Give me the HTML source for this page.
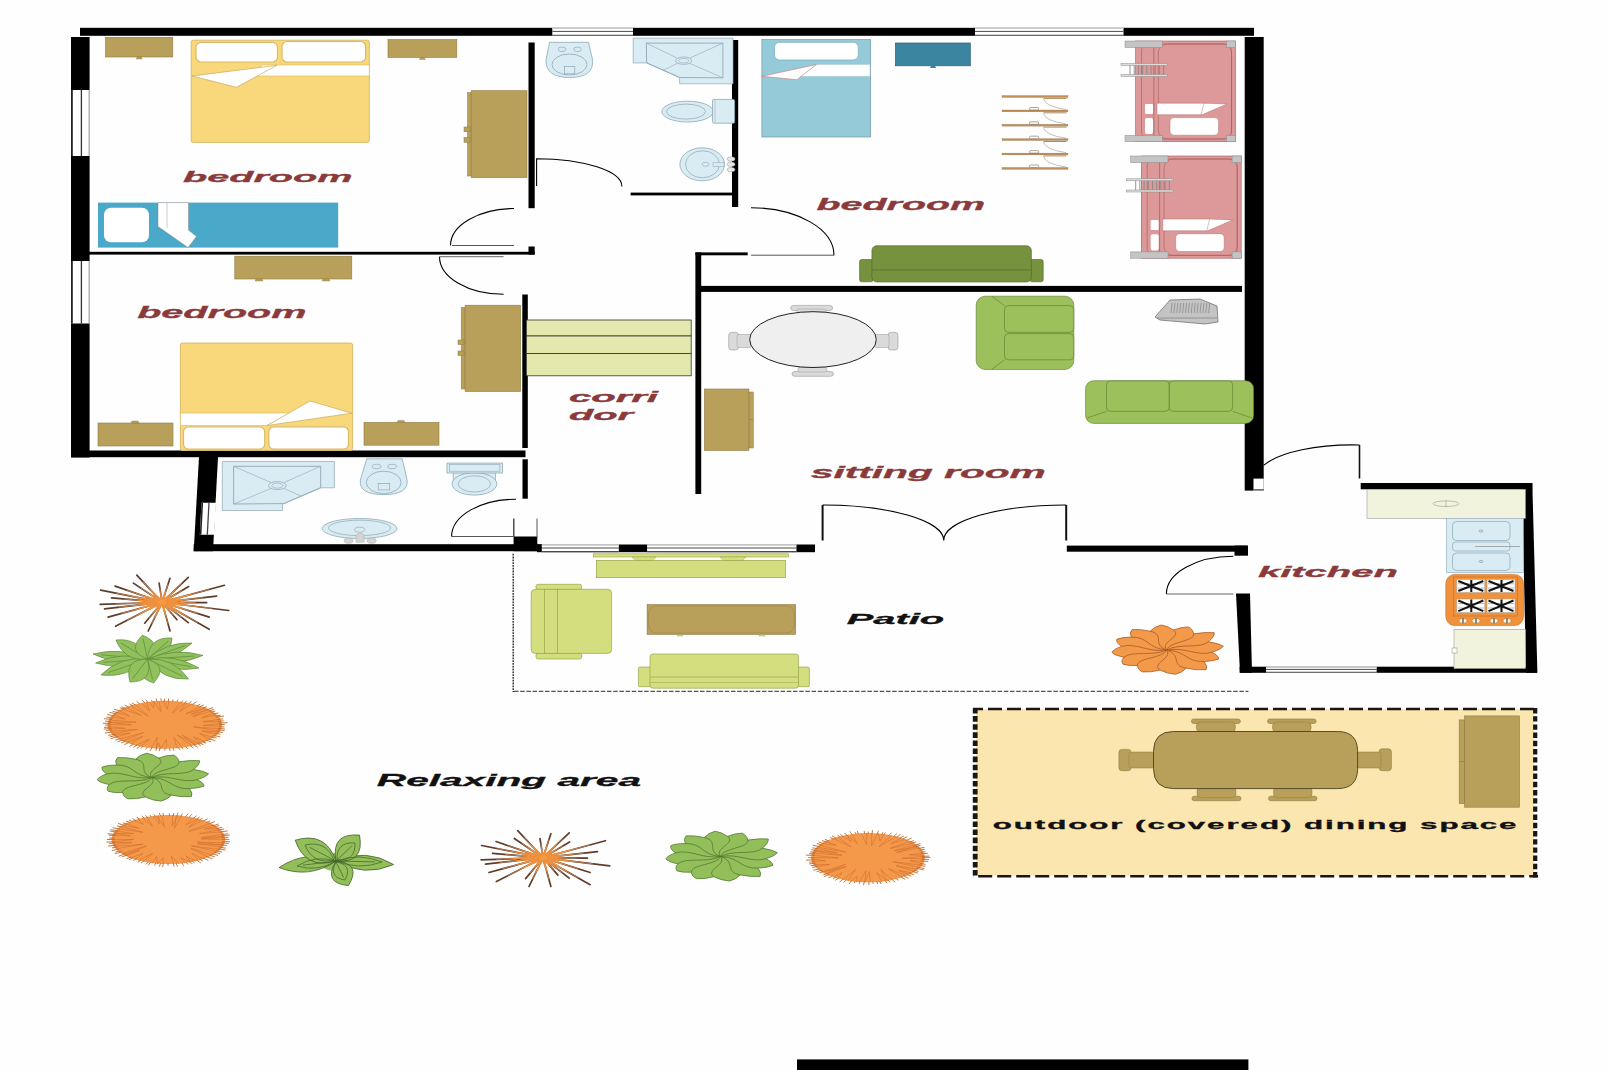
<!DOCTYPE html>
<html><head><meta charset="utf-8"><style>
html,body{margin:0;padding:0;background:#fff;width:1606px;height:1070px;overflow:hidden}
svg{display:block}
</style></head><body>
<svg width="1606" height="1070" viewBox="0 0 1606 1070">
<rect width="1606" height="1070" fill="#fefefe"/>
<rect x="80.0" y="27.8" width="1174.0" height="8.0" fill="#000"/>
<rect x="552.3" y="27.8" width="80.7" height="8.0" fill="#fff"/>
<line x1="552.3" y1="28.4" x2="633.0" y2="28.4" stroke="#c8c8c8" stroke-width="1.2"/>
<line x1="552.3" y1="31.4" x2="633.0" y2="31.4" stroke="#4a4a4a" stroke-width="1.0"/>
<line x1="552.3" y1="35.2" x2="633.0" y2="35.2" stroke="#4a4a4a" stroke-width="1.1"/>
<rect x="975.0" y="27.8" width="148.5" height="8.0" fill="#fff"/>
<line x1="975.0" y1="28.4" x2="1123.5" y2="28.4" stroke="#c8c8c8" stroke-width="1.2"/>
<line x1="975.0" y1="31.4" x2="1123.5" y2="31.4" stroke="#4a4a4a" stroke-width="1.0"/>
<line x1="975.0" y1="35.2" x2="1123.5" y2="35.2" stroke="#4a4a4a" stroke-width="1.1"/>
<rect x="71.0" y="37.0" width="18.6" height="420.5" fill="#000"/>
<rect x="71.0" y="90.0" width="18.6" height="66.0" fill="#fff"/>
<line x1="71.9" y1="90.0" x2="71.9" y2="156.0" stroke="#222" stroke-width="1.8"/>
<line x1="81.4" y1="90.0" x2="81.4" y2="156.0" stroke="#333" stroke-width="1.3"/>
<line x1="89.0" y1="90.0" x2="89.0" y2="156.0" stroke="#aaa" stroke-width="1"/>
<rect x="71.0" y="261.0" width="18.6" height="62.5" fill="#fff"/>
<line x1="71.9" y1="261.0" x2="71.9" y2="323.5" stroke="#222" stroke-width="1.8"/>
<line x1="81.4" y1="261.0" x2="81.4" y2="323.5" stroke="#333" stroke-width="1.3"/>
<line x1="89.0" y1="261.0" x2="89.0" y2="323.5" stroke="#aaa" stroke-width="1"/>
<rect x="528.5" y="42.5" width="6.2" height="165.7" fill="#000"/>
<rect x="528.5" y="246.5" width="6.2" height="8.1" fill="#000"/>
<rect x="89.0" y="251.8" width="445.7" height="2.8" fill="#000"/>
<rect x="522.3" y="294.5" width="5.5" height="153.5" fill="#000"/>
<rect x="71.0" y="450.5" width="454.5" height="6.7" fill="#000"/>
<rect x="522.5" y="459.3" width="5.3" height="39.4" fill="#000"/>
<rect x="732.0" y="40.0" width="6.2" height="167.0" fill="#000"/>
<rect x="630.6" y="192.6" width="101.4" height="2.8" fill="#000"/>
<rect x="695.4" y="252.4" width="52.3" height="2.9" fill="#000"/>
<rect x="695.4" y="252.4" width="5.8" height="241.6" fill="#000"/>
<rect x="701.0" y="285.9" width="541.0" height="6.0" fill="#000"/>
<rect x="1244.7" y="37.0" width="19.0" height="453.6" fill="#000"/>
<rect x="1253.5" y="478.6" width="10.2" height="12.0" fill="#fff"/>
<line x1="1253.5" y1="489.8" x2="1263.7" y2="489.8" stroke="#333" stroke-width="1"/>
<polygon points="199.0,457.0 218.0,457.0 213.0,551.2 193.7,551.2" fill="#000"/>
<polygon points="201.5,502.7 216.0,502.7 214.2,534.7 199.8,534.7" fill="#fff"/>
<line x1="202.3" y1="502.7" x2="200.6" y2="534.7" stroke="#222" stroke-width="1.6"/>
<line x1="209.0" y1="502.7" x2="207.3" y2="534.7" stroke="#444" stroke-width="1.3"/>
<rect x="193.7" y="544.2" width="348.3" height="7.0" fill="#000"/>
<rect x="513.6" y="536.5" width="23.7" height="14.7" fill="#000"/>
<line x1="513.8" y1="518.5" x2="513.8" y2="537.0" stroke="#222" stroke-width="1.2"/>
<line x1="537.0" y1="518.5" x2="537.0" y2="537.0" stroke="#555" stroke-width="1"/>
<rect x="537.0" y="544.5" width="278.0" height="7.7" fill="#000"/>
<rect x="541.8" y="544.5" width="77.0" height="7.7" fill="#fff"/>
<line x1="541.8" y1="545.1" x2="618.8" y2="545.1" stroke="#c8c8c8" stroke-width="1.2"/>
<line x1="541.8" y1="548.0" x2="618.8" y2="548.0" stroke="#4a4a4a" stroke-width="1.0"/>
<line x1="541.8" y1="551.6" x2="618.8" y2="551.6" stroke="#4a4a4a" stroke-width="1.1"/>
<rect x="647.1" y="544.5" width="149.3" height="7.7" fill="#fff"/>
<line x1="647.1" y1="545.1" x2="796.4" y2="545.1" stroke="#c8c8c8" stroke-width="1.2"/>
<line x1="647.1" y1="548.0" x2="796.4" y2="548.0" stroke="#4a4a4a" stroke-width="1.0"/>
<line x1="647.1" y1="551.6" x2="796.4" y2="551.6" stroke="#4a4a4a" stroke-width="1.1"/>
<rect x="1066.8" y="545.6" width="180.5" height="6.1" fill="#000"/>
<rect x="1234.5" y="545.6" width="13.5" height="10.1" fill="#000"/>
<rect x="1360.7" y="483.0" width="171.6" height="6.3" fill="#000"/>
<polygon points="1522.0,483.0 1532.3,483.0 1537.4,672.8 1526.0,672.8" fill="#000"/>
<rect x="1239.6" y="666.7" width="297.4" height="6.1" fill="#000"/>
<rect x="1266.0" y="666.7" width="110.6" height="6.1" fill="#fff"/>
<line x1="1266.0" y1="667.3" x2="1376.6" y2="667.3" stroke="#c8c8c8" stroke-width="1.2"/>
<line x1="1266.0" y1="669.4" x2="1376.6" y2="669.4" stroke="#4a4a4a" stroke-width="1.0"/>
<line x1="1266.0" y1="672.2" x2="1376.6" y2="672.2" stroke="#4a4a4a" stroke-width="1.1"/>
<polygon points="1236.0,593.5 1250.0,593.5 1252.0,672.8 1240.0,672.8" fill="#000"/>
<rect x="797.0" y="1059.4" width="451.4" height="10.6" fill="#000"/>
<path d="M536.6,186 V158.7 A85.5,27.7 0 0 1 621.9,186.4" fill="none" stroke="#000" stroke-width="1.1"/>
<path d="M514,208.5 A64,37 0 0 0 450.5,245.5  " fill="none" stroke="#000" stroke-width="1.1"/>
<line x1="452.0" y1="245.5" x2="514.0" y2="245.5" stroke="#555" stroke-width="1"/>
<path d="M439.5,256.7 A64,37.5 0 0 0 503.6,294.2" fill="none" stroke="#000" stroke-width="1.1"/>
<line x1="439.5" y1="256.7" x2="503.6" y2="256.7" stroke="#666" stroke-width="1"/>
<path d="M751,207.7 A83,47.5 0 0 1 834,255.2" fill="none" stroke="#000" stroke-width="1.1"/>
<line x1="751.0" y1="255.2" x2="834.0" y2="255.2" stroke="#555" stroke-width="1"/>
<path d="M516,499.2 A64.5,37.3 0 0 0 451.6,536.5" fill="none" stroke="#000" stroke-width="1.1"/>
<line x1="451.6" y1="536.5" x2="513.6" y2="536.5" stroke="#555" stroke-width="1"/>
<line x1="822.6" y1="505.0" x2="822.6" y2="540.5" stroke="#111" stroke-width="2"/>
<line x1="1066.2" y1="505.0" x2="1066.2" y2="540.5" stroke="#111" stroke-width="2"/>
<path d="M822.6,505 A121,35.3 0 0 1 943.7,540.3" fill="none" stroke="#000" stroke-width="1.1"/>
<path d="M1066.2,505 A122.5,35.3 0 0 0 943.7,540.3" fill="none" stroke="#000" stroke-width="1.1"/>
<path d="M1263.6,465.3 A96,33 0 0 1 1359.5,445" fill="none" stroke="#000" stroke-width="1.1"/>
<line x1="1359.5" y1="445.0" x2="1359.5" y2="478.5" stroke="#111" stroke-width="1.6"/>
<path d="M1233.3,556.2 A67,37.8 0 0 0 1166.4,594" fill="none" stroke="#000" stroke-width="1.1"/>
<line x1="1166.4" y1="594.0" x2="1233.3" y2="594.0" stroke="#666" stroke-width="1"/>
<rect x="105.6" y="37.3" width="67.2" height="19.7" fill="#b9a05a" stroke="#8d7a45" stroke-width="0.6"/>
<polygon points="136.2,59.0 142.2,59.0 141.2,57.0 137.2,57.0" fill="#b9a05a" stroke="#8d7a45" stroke-width="0.4"/>
<rect x="388.0" y="39.6" width="68.8" height="17.8" fill="#b9a05a" stroke="#8d7a45" stroke-width="0.6"/>
<polygon points="419.4,59.4 425.4,59.4 424.4,57.4 420.4,57.4" fill="#b9a05a" stroke="#8d7a45" stroke-width="0.4"/>
<rect x="191.2" y="40.2" width="178.1" height="102.2" fill="#f9d77b" stroke="#d9bb6a" stroke-width="1" rx="2"/>
<rect x="196.0" y="42.4" width="81.5" height="19.6" fill="#fff" stroke="#d9bb6a" stroke-width="1.2" rx="5"/>
<rect x="282.0" y="41.5" width="83.6" height="20.5" fill="#fff" stroke="#d9bb6a" stroke-width="1.2" rx="5"/>
<polygon points="262.0,65.0 369.3,65.0 369.3,76.0 255.0,76.0" fill="#fff" stroke="#d9bb6a" stroke-width="0.6"/>
<polygon points="192.0,76.0 277.0,65.3 236.4,87.3" fill="#fff" stroke="#c9ab5a" stroke-width="0.7"/>
<rect x="467.5" y="92.5" width="3.7" height="83.5" fill="#b9a05a" stroke="#8d7a45" stroke-width="0.5"/>
<rect x="471.2" y="90.7" width="55.8" height="86.9" fill="#b9a05a" stroke="#8d7a45" stroke-width="0.6"/>
<rect x="464.0" y="127.0" width="6.0" height="4.8" fill="#b9a05a" stroke="#8d7a45" stroke-width="0.5"/>
<rect x="464.0" y="137.5" width="6.0" height="4.8" fill="#b9a05a" stroke="#8d7a45" stroke-width="0.5"/>
<rect x="98.0" y="202.6" width="240.2" height="45.0" fill="#4aa9c8"/>
<rect x="104.0" y="207.8" width="45.0" height="34.5" fill="#fff" rx="7"/>
<polygon points="158.0,202.6 188.5,202.6 188.5,230.0 196.5,236.5 188.0,247.6 158.0,226.5" fill="#fff" stroke="#888" stroke-width="0.5"/>
<line x1="167.0" y1="202.6" x2="167.0" y2="228.0" stroke="#aaa" stroke-width="0.6"/>
<text x="183.0" y="182.4" font-family="Liberation Sans" font-size="15.36" font-style="italic" font-weight="bold" fill="#8a3a3a" stroke="#8a3a3a" stroke-width="0.3" letter-spacing="0" textLength="169.5" lengthAdjust="spacingAndGlyphs">bedroom</text>
<rect x="234.8" y="256.2" width="117.0" height="22.8" fill="#b9a05a" stroke="#8d7a45" stroke-width="0.6"/>
<polygon points="255.0,281.0 263.0,281.0 262.0,279.0 256.0,279.0" fill="#b9a05a" stroke="#8d7a45" stroke-width="0.4"/>
<polygon points="322.0,281.0 330.0,281.0 329.0,279.0 323.0,279.0" fill="#b9a05a" stroke="#8d7a45" stroke-width="0.4"/>
<text x="137.2" y="317.6" font-family="Liberation Sans" font-size="17.01" font-style="italic" font-weight="bold" fill="#8a3a3a" stroke="#8a3a3a" stroke-width="0.3" letter-spacing="0" textLength="169.3" lengthAdjust="spacingAndGlyphs">bedroom</text>
<rect x="180.4" y="343.1" width="172.2" height="107.3" fill="#f9d77b" stroke="#d9bb6a" stroke-width="1" rx="2"/>
<rect x="183.5" y="426.8" width="81.2" height="22.3" fill="#fff" stroke="#d9bb6a" stroke-width="1.2" rx="5"/>
<rect x="268.8" y="426.8" width="79.7" height="22.3" fill="#fff" stroke="#d9bb6a" stroke-width="1.2" rx="5"/>
<polygon points="180.6,413.0 290.0,413.0 267.0,425.5 180.6,425.5" fill="#fff" stroke="#d9bb6a" stroke-width="0.6"/>
<polygon points="267.0,425.5 352.0,413.2 310.0,401.0" fill="#fff" stroke="#c9ab5a" stroke-width="0.7"/>
<rect x="98.0" y="423.0" width="75.0" height="23.0" fill="#b9a05a" stroke="#8d7a45" stroke-width="0.6"/>
<polygon points="131.0,423.0 139.0,423.0 138.0,421.0 132.0,421.0" fill="#b9a05a" stroke="#8d7a45" stroke-width="0.4"/>
<rect x="364.0" y="422.4" width="75.0" height="22.8" fill="#b9a05a" stroke="#8d7a45" stroke-width="0.6"/>
<polygon points="397.0,422.4 405.0,422.4 404.0,420.4 398.0,420.4" fill="#b9a05a" stroke="#8d7a45" stroke-width="0.4"/>
<rect x="461.2" y="307.5" width="3.9" height="81.5" fill="#b9a05a" stroke="#8d7a45" stroke-width="0.5"/>
<rect x="465.1" y="305.2" width="55.5" height="86.3" fill="#b9a05a" stroke="#8d7a45" stroke-width="0.6"/>
<rect x="458.0" y="340.0" width="6.0" height="4.5" fill="#b9a05a" stroke="#8d7a45" stroke-width="0.5"/>
<rect x="458.0" y="351.0" width="6.0" height="4.5" fill="#b9a05a" stroke="#8d7a45" stroke-width="0.5"/>
<path d="M549.5,42.3 L588.5,42.3 L592.6,60 Q594,77.5 569.5,77.5 Q545.5,77.5 546,60 Z" fill="#d9ecf4" stroke="#8ea8b6" stroke-width="0.8"/>
<ellipse cx="569.5" cy="64.5" rx="17.5" ry="10.5" fill="none" stroke="#8ea8b6" stroke-width="0.8"/>
<ellipse cx="562.0" cy="49.3" rx="3.8" ry="2.3" fill="none" stroke="#8ea8b6" stroke-width="0.7"/>
<ellipse cx="577.5" cy="49.3" rx="3.8" ry="2.3" fill="none" stroke="#8ea8b6" stroke-width="0.7"/>
<rect x="564.5" y="66.5" width="10.3" height="7.3" fill="none" stroke="#8ea8b6" stroke-width="0.7"/>
<polygon points="633.2,38.2 733.0,38.2 733.0,83.8 679.6,83.8 679.6,77.5 646.7,62.9 633.2,62.9" fill="#d9ecf4" stroke="#8ea8b6" stroke-width="0.7"/>
<polygon points="646.3,43.1 722.9,43.1 722.9,77.8 679.6,77.5 646.7,62.9" fill="none" stroke="#8ea8b6" stroke-width="0.9"/>
<line x1="646.3" y1="43.1" x2="677.0" y2="58.0" stroke="#8ea8b6" stroke-width="0.6"/>
<line x1="722.9" y1="43.1" x2="690.0" y2="58.0" stroke="#8ea8b6" stroke-width="0.6"/>
<line x1="722.9" y1="77.8" x2="690.0" y2="63.5" stroke="#8ea8b6" stroke-width="0.6"/>
<line x1="663.1" y1="70.4" x2="677.0" y2="63.5" stroke="#8ea8b6" stroke-width="0.6"/>
<ellipse cx="683.7" cy="60.7" rx="8.2" ry="3.7" fill="none" stroke="#8ea8b6" stroke-width="0.7"/>
<ellipse cx="683.7" cy="60.7" rx="5.0" ry="2.2" fill="none" stroke="#8ea8b6" stroke-width="0.6"/>
<ellipse cx="687.5" cy="111.6" rx="25.7" ry="10.4" fill="#d9ecf4" stroke="#8ea8b6" stroke-width="0.8"/>
<ellipse cx="686.0" cy="111.6" rx="19.5" ry="7.5" fill="none" stroke="#8ea8b6" stroke-width="0.7"/>
<rect x="712.5" y="99.4" width="22.1" height="23.8" fill="#d9ecf4" stroke="#8ea8b6" stroke-width="0.8" rx="1.5"/>
<line x1="715.0" y1="100.0" x2="715.0" y2="122.5" stroke="#8ea8b6" stroke-width="0.5"/>
<ellipse cx="702.2" cy="164.3" rx="22.3" ry="16.5" fill="#d9ecf4" stroke="#8ea8b6" stroke-width="0.8"/>
<ellipse cx="702.5" cy="164.3" rx="17.0" ry="13.5" fill="none" stroke="#8ea8b6" stroke-width="0.7"/>
<ellipse cx="705.5" cy="164.3" rx="3.5" ry="2.0" fill="none" stroke="#8ea8b6" stroke-width="0.6"/>
<rect x="713.0" y="162.5" width="11.0" height="4.0" fill="#d9ecf4" stroke="#8ea8b6" stroke-width="0.5"/>
<ellipse cx="731.0" cy="159.0" rx="4.0" ry="2.2" fill="#e8e8e8" stroke="#999" stroke-width="0.5"/>
<ellipse cx="731.0" cy="164.3" rx="4.0" ry="2.2" fill="#e8e8e8" stroke="#999" stroke-width="0.5"/>
<ellipse cx="731.0" cy="169.6" rx="4.0" ry="2.2" fill="#e8e8e8" stroke="#999" stroke-width="0.5"/>
<polygon points="222.3,461.5 334.4,461.5 334.4,487.8 320.3,487.8 283.8,503.6 282.6,503.6 282.6,510.5 222.3,510.5" fill="#d9ecf4" stroke="#8ea8b6" stroke-width="0.7"/>
<polygon points="233.6,466.3 320.7,466.3 320.7,487.8 283.8,503.6 233.6,504.0" fill="none" stroke="#8ea8b6" stroke-width="0.9"/>
<line x1="233.6" y1="466.3" x2="271.0" y2="482.5" stroke="#8ea8b6" stroke-width="0.6"/>
<line x1="320.7" y1="466.3" x2="284.0" y2="482.5" stroke="#8ea8b6" stroke-width="0.6"/>
<line x1="233.6" y1="504.0" x2="271.0" y2="488.5" stroke="#8ea8b6" stroke-width="0.6"/>
<line x1="301.0" y1="496.0" x2="284.0" y2="488.5" stroke="#8ea8b6" stroke-width="0.6"/>
<ellipse cx="277.3" cy="485.6" rx="8.9" ry="4.0" fill="none" stroke="#8ea8b6" stroke-width="0.7"/>
<ellipse cx="277.3" cy="485.6" rx="5.5" ry="2.5" fill="none" stroke="#8ea8b6" stroke-width="0.6"/>
<path d="M366.7,458.8 L402.2,458.8 L407.1,480 Q409,494.6 383.7,494.6 Q358.5,494.6 360.4,480 Z" fill="#d9ecf4" stroke="#8ea8b6" stroke-width="0.8"/>
<ellipse cx="383.7" cy="482.4" rx="17.4" ry="11.2" fill="none" stroke="#8ea8b6" stroke-width="0.8"/>
<ellipse cx="376.6" cy="466.5" rx="4.4" ry="2.2" fill="none" stroke="#8ea8b6" stroke-width="0.7"/>
<ellipse cx="392.2" cy="466.5" rx="4.4" ry="2.2" fill="none" stroke="#8ea8b6" stroke-width="0.7"/>
<rect x="378.2" y="483.4" width="11.5" height="6.5" fill="none" stroke="#8ea8b6" stroke-width="0.7"/>
<rect x="453.2" y="471.0" width="42.4" height="15.0" fill="#d9ecf4" stroke="#8ea8b6" stroke-width="0.7"/>
<ellipse cx="474.4" cy="483.9" rx="22.4" ry="11.2" fill="#d9ecf4" stroke="#8ea8b6" stroke-width="0.8"/>
<ellipse cx="474.4" cy="483.9" rx="16.2" ry="8.1" fill="none" stroke="#8ea8b6" stroke-width="0.7"/>
<rect x="447.0" y="463.1" width="55.4" height="9.9" fill="#d9ecf4" stroke="#8ea8b6" stroke-width="0.8"/>
<rect x="449.5" y="464.3" width="50.4" height="6.9" fill="none" stroke="#8ea8b6" stroke-width="0.6"/>
<ellipse cx="359.6" cy="528.5" rx="37.4" ry="10.0" fill="#d9ecf4" stroke="#8ea8b6" stroke-width="0.8"/>
<ellipse cx="359.6" cy="527.9" rx="31.1" ry="7.7" fill="none" stroke="#8ea8b6" stroke-width="0.7"/>
<ellipse cx="359.6" cy="529.7" rx="5.0" ry="2.5" fill="none" stroke="#999" stroke-width="0.6"/>
<ellipse cx="348.6" cy="540.7" rx="4.6" ry="2.6" fill="#d4d4d4" stroke="#aaa" stroke-width="0.5"/>
<ellipse cx="371.6" cy="540.7" rx="4.6" ry="2.6" fill="#d4d4d4" stroke="#aaa" stroke-width="0.5"/>
<path d="M356,542.2 L356,535 Q360,531.5 364.2,535 L364.2,542.2 Z" fill="#d4d4d4" stroke="#aaa" stroke-width="0.5"/>
<rect x="761.9" y="39.6" width="108.7" height="97.4" fill="#95cad9" stroke="#6f97a5" stroke-width="0.7"/>
<rect x="774.5" y="42.3" width="83.8" height="17.7" fill="#fff" stroke="#7fb0c0" stroke-width="0.8" rx="5"/>
<polygon points="816.4,64.5 870.0,64.5 870.0,76.3 800.0,76.3" fill="#fff" stroke="#b0c8d0" stroke-width="0.5"/>
<polygon points="762.0,76.3 816.4,64.5 796.8,79.7" fill="#fff" stroke="#c77" stroke-width="0.6"/>
<rect x="895.4" y="43.0" width="74.9" height="22.8" fill="#3c85a1" stroke="#2c5f70" stroke-width="0.7"/>
<polygon points="930.0,68.0 936.0,68.0 935.0,65.8 931.0,65.8" fill="#3c85a1"/>
<rect x="1002.0" y="95.6" width="66.0" height="1.8" fill="#bf905a" stroke="#8a6a40" stroke-width="0.3"/>
<rect x="1043.5" y="97.9" width="23.0" height="1.0" fill="#b08a60"/>
<path d="M1043.5,98.9 Q1045,106.5 1066,109.5" fill="none" stroke="#999" stroke-width="0.6"/>
<rect x="1002.0" y="110.0" width="66.0" height="1.8" fill="#bf905a" stroke="#8a6a40" stroke-width="0.3"/>
<rect x="1029.5" y="107.5" width="9.2" height="2.5" fill="#fff" stroke="#7a6a50" stroke-width="0.6" rx="1.2"/>
<rect x="1043.5" y="112.3" width="23.0" height="1.0" fill="#b08a60"/>
<path d="M1043.5,113.3 Q1045,120.9 1066,123.9" fill="none" stroke="#999" stroke-width="0.6"/>
<rect x="1002.0" y="124.3" width="66.0" height="1.8" fill="#bf905a" stroke="#8a6a40" stroke-width="0.3"/>
<rect x="1029.5" y="121.8" width="9.2" height="2.5" fill="#fff" stroke="#7a6a50" stroke-width="0.6" rx="1.2"/>
<rect x="1043.5" y="126.6" width="23.0" height="1.0" fill="#b08a60"/>
<path d="M1043.5,127.6 Q1045,135.2 1066,138.2" fill="none" stroke="#999" stroke-width="0.6"/>
<rect x="1002.0" y="138.7" width="66.0" height="1.8" fill="#bf905a" stroke="#8a6a40" stroke-width="0.3"/>
<rect x="1029.5" y="136.2" width="9.2" height="2.5" fill="#fff" stroke="#7a6a50" stroke-width="0.6" rx="1.2"/>
<rect x="1043.5" y="141.0" width="23.0" height="1.0" fill="#b08a60"/>
<path d="M1043.5,142.0 Q1045,149.6 1066,152.6" fill="none" stroke="#999" stroke-width="0.6"/>
<rect x="1002.0" y="153.1" width="66.0" height="1.8" fill="#bf905a" stroke="#8a6a40" stroke-width="0.3"/>
<rect x="1029.5" y="150.6" width="9.2" height="2.5" fill="#fff" stroke="#7a6a50" stroke-width="0.6" rx="1.2"/>
<rect x="1043.5" y="155.4" width="23.0" height="1.0" fill="#b08a60"/>
<path d="M1043.5,156.4 Q1045,164.0 1066,167.0" fill="none" stroke="#999" stroke-width="0.6"/>
<rect x="1002.0" y="167.5" width="66.0" height="1.8" fill="#bf905a" stroke="#8a6a40" stroke-width="0.3"/>
<rect x="1029.5" y="165.0" width="9.2" height="2.5" fill="#fff" stroke="#7a6a50" stroke-width="0.6" rx="1.2"/>
<rect x="859.6" y="259.5" width="13.4" height="22.3" fill="#76923f" stroke="#4c6427" stroke-width="0.6" rx="2"/>
<rect x="1030.0" y="259.5" width="13.2" height="22.3" fill="#76923f" stroke="#4c6427" stroke-width="0.6" rx="2"/>
<rect x="871.9" y="245.7" width="159.5" height="36.3" fill="#76923f" stroke="#4c6427" stroke-width="0.6" rx="5"/>
<line x1="872.0" y1="270.0" x2="1031.0" y2="270.0" stroke="#4c6427" stroke-width="0.6"/>
<rect x="1135.6" y="41.0" width="99.9" height="100.7" fill="#dd9999" stroke="#a55a5a" stroke-width="0.6"/>
<rect x="1141.5" y="44.0" width="90.0" height="95.0" fill="none" stroke="#a55a5a" stroke-width="0.6" rx="7"/>
<rect x="1158.3" y="44.0" width="73.3" height="95.0" fill="none" stroke="#a55a5a" stroke-width="0.6" rx="9"/>
<line x1="1153.9" y1="41.0" x2="1153.9" y2="141.7" stroke="#a55a5a" stroke-width="0.7"/>
<rect x="1125.0" y="41.0" width="37.3" height="6.5" fill="#c4c4c4" stroke="#8a8a8a" stroke-width="0.5"/>
<rect x="1226.4" y="41.0" width="9.1" height="6.5" fill="#c4c4c4" stroke="#8a8a8a" stroke-width="0.5"/>
<rect x="1125.0" y="135.5" width="37.3" height="6.2" fill="#c4c4c4" stroke="#8a8a8a" stroke-width="0.5"/>
<rect x="1226.4" y="135.5" width="9.1" height="6.2" fill="#c4c4c4" stroke="#8a8a8a" stroke-width="0.5"/>
<rect x="1121.0" y="63.5" width="46.5" height="2.0" fill="#ddd" stroke="#8a8a8a" stroke-width="0.5"/>
<rect x="1121.0" y="74.5" width="46.5" height="2.0" fill="#ddd" stroke="#8a8a8a" stroke-width="0.5"/>
<line x1="1130.0" y1="65.5" x2="1130.0" y2="74.5" stroke="#888" stroke-width="0.9"/>
<line x1="1134.2" y1="65.5" x2="1134.2" y2="74.5" stroke="#888" stroke-width="0.9"/>
<line x1="1138.4" y1="65.5" x2="1138.4" y2="74.5" stroke="#888" stroke-width="0.9"/>
<line x1="1142.6" y1="65.5" x2="1142.6" y2="74.5" stroke="#888" stroke-width="0.9"/>
<line x1="1146.8" y1="65.5" x2="1146.8" y2="74.5" stroke="#888" stroke-width="0.9"/>
<line x1="1151.0" y1="65.5" x2="1151.0" y2="74.5" stroke="#888" stroke-width="0.9"/>
<line x1="1155.2" y1="65.5" x2="1155.2" y2="74.5" stroke="#888" stroke-width="0.9"/>
<line x1="1159.4" y1="65.5" x2="1159.4" y2="74.5" stroke="#888" stroke-width="0.9"/>
<line x1="1163.6" y1="65.5" x2="1163.6" y2="74.5" stroke="#888" stroke-width="0.9"/>
<polygon points="1157.0,103.2 1204.0,103.2 1227.0,104.0 1202.0,114.7 1157.0,114.7" fill="#fff" stroke="#a55a5a" stroke-width="0.4"/>
<line x1="1204.0" y1="103.2" x2="1201.0" y2="114.7" stroke="#a55a5a" stroke-width="0.4"/>
<rect x="1145.0" y="104.0" width="8.0" height="10.0" fill="#fff" rx="1"/>
<rect x="1170.0" y="117.6" width="48.5" height="17.6" fill="#fff" stroke="#a55a5a" stroke-width="0.4" rx="4"/>
<rect x="1145.0" y="118.0" width="8.0" height="16.0" fill="#fff" rx="2"/>
<rect x="1141.3" y="156.0" width="99.9" height="102.2" fill="#dd9999" stroke="#a55a5a" stroke-width="0.6"/>
<rect x="1147.2" y="159.0" width="90.0" height="96.4" fill="none" stroke="#a55a5a" stroke-width="0.6" rx="7"/>
<rect x="1164.0" y="159.0" width="73.3" height="96.4" fill="none" stroke="#a55a5a" stroke-width="0.6" rx="9"/>
<line x1="1159.6" y1="156.0" x2="1159.6" y2="258.2" stroke="#a55a5a" stroke-width="0.7"/>
<rect x="1130.7" y="156.0" width="37.3" height="6.6" fill="#c4c4c4" stroke="#8a8a8a" stroke-width="0.5"/>
<rect x="1232.1" y="156.0" width="9.1" height="6.6" fill="#c4c4c4" stroke="#8a8a8a" stroke-width="0.5"/>
<rect x="1130.7" y="251.9" width="37.3" height="6.3" fill="#c4c4c4" stroke="#8a8a8a" stroke-width="0.5"/>
<rect x="1232.1" y="251.9" width="9.1" height="6.3" fill="#c4c4c4" stroke="#8a8a8a" stroke-width="0.5"/>
<rect x="1126.7" y="178.8" width="46.5" height="2.0" fill="#ddd" stroke="#8a8a8a" stroke-width="0.5"/>
<rect x="1126.7" y="190.0" width="46.5" height="2.0" fill="#ddd" stroke="#8a8a8a" stroke-width="0.5"/>
<line x1="1135.7" y1="180.9" x2="1135.7" y2="190.0" stroke="#888" stroke-width="0.9"/>
<line x1="1139.9" y1="180.9" x2="1139.9" y2="190.0" stroke="#888" stroke-width="0.9"/>
<line x1="1144.1" y1="180.9" x2="1144.1" y2="190.0" stroke="#888" stroke-width="0.9"/>
<line x1="1148.3" y1="180.9" x2="1148.3" y2="190.0" stroke="#888" stroke-width="0.9"/>
<line x1="1152.5" y1="180.9" x2="1152.5" y2="190.0" stroke="#888" stroke-width="0.9"/>
<line x1="1156.7" y1="180.9" x2="1156.7" y2="190.0" stroke="#888" stroke-width="0.9"/>
<line x1="1160.9" y1="180.9" x2="1160.9" y2="190.0" stroke="#888" stroke-width="0.9"/>
<line x1="1165.1" y1="180.9" x2="1165.1" y2="190.0" stroke="#888" stroke-width="0.9"/>
<line x1="1169.3" y1="180.9" x2="1169.3" y2="190.0" stroke="#888" stroke-width="0.9"/>
<polygon points="1162.7,219.1 1209.7,219.1 1232.7,219.9 1207.7,230.8 1162.7,230.8" fill="#fff" stroke="#a55a5a" stroke-width="0.4"/>
<line x1="1209.7" y1="219.1" x2="1206.7" y2="230.8" stroke="#a55a5a" stroke-width="0.4"/>
<rect x="1150.7" y="219.9" width="8.0" height="10.2" fill="#fff" rx="1"/>
<rect x="1175.7" y="233.7" width="48.5" height="17.9" fill="#fff" stroke="#a55a5a" stroke-width="0.4" rx="4"/>
<rect x="1150.7" y="234.2" width="8.0" height="16.2" fill="#fff" rx="2"/>
<text x="816.4" y="209.8" font-family="Liberation Sans" font-size="16.19" font-style="italic" font-weight="bold" fill="#8a3a3a" stroke="#8a3a3a" stroke-width="0.3" letter-spacing="0" textLength="168.8" lengthAdjust="spacingAndGlyphs">bedroom</text>
<rect x="526.3" y="320.0" width="164.9" height="16.0" fill="#e4e8ad" stroke="#333" stroke-width="0.8"/>
<rect x="526.3" y="336.0" width="164.9" height="17.6" fill="#e4e8ad" stroke="#333" stroke-width="0.8"/>
<rect x="526.3" y="353.6" width="164.9" height="22.2" fill="#e4e8ad" stroke="#333" stroke-width="0.8"/>
<text x="569.0" y="401.5" font-family="Liberation Sans" font-size="13.72" font-style="italic" font-weight="bold" fill="#8a3a3a" stroke="#8a3a3a" stroke-width="0.3" letter-spacing="0" textLength="89.0" lengthAdjust="spacingAndGlyphs">corri</text>
<text x="569.0" y="419.8" font-family="Liberation Sans" font-size="14.13" font-style="italic" font-weight="bold" fill="#8a3a3a" stroke="#8a3a3a" stroke-width="0.3" letter-spacing="0" textLength="64.0" lengthAdjust="spacingAndGlyphs">dor</text>
<rect x="790.7" y="305.4" width="41.9" height="5.1" fill="#dadada" stroke="#999" stroke-width="0.6" rx="3"/>
<rect x="797.0" y="309.0" width="29.0" height="4.5" fill="#dadada" stroke="#999" stroke-width="0.5" rx="2"/>
<rect x="792.0" y="371.5" width="41.5" height="4.8" fill="#dadada" stroke="#999" stroke-width="0.6" rx="3"/>
<rect x="798.0" y="367.0" width="29.0" height="5.0" fill="#dadada" stroke="#999" stroke-width="0.5" rx="2"/>
<rect x="728.7" y="332.3" width="9.8" height="17.7" fill="#dadada" stroke="#999" stroke-width="0.6" rx="3"/>
<rect x="737.0" y="334.5" width="15.0" height="13.0" fill="#dadada" stroke="#999" stroke-width="0.5" rx="2"/>
<rect x="888.0" y="332.3" width="10.0" height="17.7" fill="#dadada" stroke="#999" stroke-width="0.6" rx="3"/>
<rect x="874.0" y="334.5" width="15.0" height="13.0" fill="#dadada" stroke="#999" stroke-width="0.5" rx="2"/>
<ellipse cx="813.0" cy="339.6" rx="63.3" ry="27.9" fill="#efefef" stroke="#222" stroke-width="1"/>
<rect x="748.9" y="392.0" width="4.4" height="56.0" fill="#b9a05a" stroke="#8d7a45" stroke-width="0.5"/>
<line x1="748.9" y1="419.5" x2="753.3" y2="419.5" stroke="#8d7a45" stroke-width="0.5"/>
<rect x="704.4" y="389.0" width="44.5" height="61.5" fill="#b9a05a" stroke="#8d7a45" stroke-width="0.6"/>
<rect x="976.2" y="296.2" width="97.6" height="73.3" fill="#9cc05b" stroke="#5a7a2e" stroke-width="0.6" rx="9"/>
<rect x="1004.5" y="305.6" width="69.3" height="26.7" fill="#9cc05b" stroke="#5a7a2e" stroke-width="0.6" rx="4"/>
<rect x="1004.5" y="333.6" width="69.3" height="26.2" fill="#9cc05b" stroke="#5a7a2e" stroke-width="0.6" rx="4"/>
<path d="M1004.5,305.6 L992,296.5 M1004.5,359.8 L992,369.2" fill="none" stroke="#5a7a2e" stroke-width="0.6"/>
<rect x="1085.6" y="380.7" width="168.0" height="42.7" fill="#9cc05b" stroke="#5a7a2e" stroke-width="0.6" rx="8"/>
<rect x="1106.5" y="380.9" width="62.8" height="30.4" fill="#9cc05b" stroke="#5a7a2e" stroke-width="0.6" rx="4"/>
<rect x="1169.3" y="380.9" width="63.3" height="30.4" fill="#9cc05b" stroke="#5a7a2e" stroke-width="0.6" rx="4"/>
<path d="M1106.5,411.3 L1087,418 M1232.6,411.3 L1252,418" fill="none" stroke="#5a7a2e" stroke-width="0.6"/>
<polygon points="1155.0,317.0 1170.0,300.0 1200.0,299.0 1217.0,306.0 1218.0,322.0 1205.0,324.0 1160.0,320.0" fill="#c4c4c4" stroke="#666" stroke-width="0.7"/>
<line x1="1157.0" y1="318.0" x2="1217.0" y2="318.0" stroke="#666" stroke-width="0.5"/>
<line x1="1172.0" y1="303.0" x2="1171.0" y2="313.0" stroke="#777" stroke-width="0.6"/>
<line x1="1174.9" y1="303.0" x2="1173.9" y2="313.0" stroke="#777" stroke-width="0.6"/>
<line x1="1177.8" y1="303.0" x2="1176.8" y2="313.0" stroke="#777" stroke-width="0.6"/>
<line x1="1180.7" y1="303.0" x2="1179.7" y2="313.0" stroke="#777" stroke-width="0.6"/>
<line x1="1183.6" y1="303.0" x2="1182.6" y2="313.0" stroke="#777" stroke-width="0.6"/>
<line x1="1186.5" y1="303.0" x2="1185.5" y2="313.0" stroke="#777" stroke-width="0.6"/>
<line x1="1189.4" y1="303.0" x2="1188.4" y2="313.0" stroke="#777" stroke-width="0.6"/>
<line x1="1192.3" y1="303.0" x2="1191.3" y2="313.0" stroke="#777" stroke-width="0.6"/>
<line x1="1195.2" y1="303.0" x2="1194.2" y2="313.0" stroke="#777" stroke-width="0.6"/>
<line x1="1198.1" y1="303.0" x2="1197.1" y2="313.0" stroke="#777" stroke-width="0.6"/>
<line x1="1201.0" y1="303.0" x2="1200.0" y2="313.0" stroke="#777" stroke-width="0.6"/>
<line x1="1203.9" y1="303.0" x2="1202.9" y2="313.0" stroke="#777" stroke-width="0.6"/>
<line x1="1206.8" y1="303.0" x2="1205.8" y2="313.0" stroke="#777" stroke-width="0.6"/>
<line x1="1209.7" y1="303.0" x2="1208.7" y2="313.0" stroke="#777" stroke-width="0.6"/>
<text x="810.8" y="478.0" font-family="Liberation Sans" font-size="16.19" font-style="italic" font-weight="bold" fill="#8a3a3a" stroke="#8a3a3a" stroke-width="0.3" letter-spacing="0" textLength="235.0" lengthAdjust="spacingAndGlyphs">sitting room</text>
<rect x="1367.0" y="489.3" width="158.5" height="29.0" fill="#f2f3dc" stroke="#999" stroke-width="0.6"/>
<ellipse cx="1446.0" cy="503.7" rx="13.0" ry="2.8" fill="none" stroke="#888" stroke-width="0.5"/>
<line x1="1446.0" y1="500.5" x2="1446.0" y2="507.0" stroke="#888" stroke-width="0.5"/>
<rect x="1446.5" y="518.3" width="77.0" height="54.3" fill="#d9ecf4" stroke="#8ea8b6" stroke-width="0.6"/>
<rect x="1452.5" y="521.5" width="57.5" height="19.0" fill="none" stroke="#8ea8b6" stroke-width="0.7" rx="4"/>
<rect x="1452.5" y="542.0" width="57.5" height="9.0" fill="none" stroke="#8ea8b6" stroke-width="0.7" rx="3"/>
<rect x="1452.5" y="553.0" width="57.5" height="17.5" fill="none" stroke="#8ea8b6" stroke-width="0.7" rx="4"/>
<ellipse cx="1481.0" cy="531.0" rx="2.0" ry="1.0" fill="none" stroke="#888" stroke-width="0.6"/>
<ellipse cx="1481.0" cy="561.5" rx="2.0" ry="1.0" fill="none" stroke="#888" stroke-width="0.6"/>
<line x1="1475.0" y1="546.5" x2="1520.0" y2="546.5" stroke="#999" stroke-width="0.8"/>
<rect x="1445.8" y="574.4" width="77.7" height="51.2" fill="#f0923c" stroke="#c36a20" stroke-width="0.6" rx="9"/>
<rect x="1453.5" y="577.0" width="64.0" height="39.0" fill="none" stroke="#c96a22" stroke-width="0.6"/>
<rect x="1456.8" y="579.5" width="28.0" height="13.0" fill="#fff" stroke="#a0a0a0" stroke-width="0.5"/>
<line x1="1457.8" y1="583.8" x2="1483.8" y2="583.8" stroke="#999" stroke-width="0.7"/>
<line x1="1457.8" y1="588.1" x2="1483.8" y2="588.1" stroke="#999" stroke-width="0.7"/>
<path d="M1458.3,581.0 L1483.3,591.0 M1483.3,581.0 L1458.3,591.0 M1471.3,580.0 V592.0" fill="none" stroke="#111" stroke-width="2.0"/>
<rect x="1487.0" y="579.5" width="28.0" height="13.0" fill="#fff" stroke="#a0a0a0" stroke-width="0.5"/>
<line x1="1488.0" y1="583.8" x2="1514.0" y2="583.8" stroke="#999" stroke-width="0.7"/>
<line x1="1488.0" y1="588.1" x2="1514.0" y2="588.1" stroke="#999" stroke-width="0.7"/>
<path d="M1488.5,581.0 L1513.5,591.0 M1513.5,581.0 L1488.5,591.0 M1501.5,580.0 V592.0" fill="none" stroke="#111" stroke-width="2.0"/>
<rect x="1456.8" y="599.0" width="28.0" height="13.6" fill="#fff" stroke="#a0a0a0" stroke-width="0.5"/>
<line x1="1457.8" y1="603.5" x2="1483.8" y2="603.5" stroke="#999" stroke-width="0.7"/>
<line x1="1457.8" y1="608.0" x2="1483.8" y2="608.0" stroke="#999" stroke-width="0.7"/>
<path d="M1458.3,600.5 L1483.3,611.1 M1483.3,600.5 L1458.3,611.1 M1471.3,599.5 V612.1" fill="none" stroke="#111" stroke-width="2.0"/>
<rect x="1487.0" y="599.0" width="28.0" height="13.6" fill="#fff" stroke="#a0a0a0" stroke-width="0.5"/>
<line x1="1488.0" y1="603.5" x2="1514.0" y2="603.5" stroke="#999" stroke-width="0.7"/>
<line x1="1488.0" y1="608.0" x2="1514.0" y2="608.0" stroke="#999" stroke-width="0.7"/>
<path d="M1488.5,600.5 L1513.5,611.1 M1513.5,600.5 L1488.5,611.1 M1501.5,599.5 V612.1" fill="none" stroke="#111" stroke-width="2.0"/>
<ellipse cx="1463.0" cy="620.8" rx="4.0" ry="2.6" fill="#fff5e0" stroke="#b06020" stroke-width="0.5"/>
<line x1="1463.0" y1="618.3" x2="1463.0" y2="623.3" stroke="#222" stroke-width="1.0"/>
<ellipse cx="1476.0" cy="620.8" rx="4.0" ry="2.6" fill="#fff5e0" stroke="#b06020" stroke-width="0.5"/>
<line x1="1476.0" y1="618.3" x2="1476.0" y2="623.3" stroke="#222" stroke-width="1.0"/>
<ellipse cx="1494.0" cy="620.8" rx="4.0" ry="2.6" fill="#fff5e0" stroke="#b06020" stroke-width="0.5"/>
<line x1="1494.0" y1="618.3" x2="1494.0" y2="623.3" stroke="#222" stroke-width="1.0"/>
<ellipse cx="1507.0" cy="620.8" rx="4.0" ry="2.6" fill="#fff5e0" stroke="#b06020" stroke-width="0.5"/>
<line x1="1507.0" y1="618.3" x2="1507.0" y2="623.3" stroke="#222" stroke-width="1.0"/>
<rect x="1454.0" y="629.4" width="71.5" height="39.1" fill="#f2f3dc" stroke="#999" stroke-width="0.6"/>
<rect x="1452.0" y="648.0" width="5.0" height="5.0" fill="#fff" stroke="#888" stroke-width="0.5"/>
<text x="1258.0" y="576.9" font-family="Liberation Sans" font-size="14.54" font-style="italic" font-weight="bold" fill="#8a3a3a" stroke="#8a3a3a" stroke-width="0.3" letter-spacing="0" textLength="139.8" lengthAdjust="spacingAndGlyphs">kitchen</text>
<rect x="593.3" y="553.8" width="195.4" height="3.2" fill="#d4de7e" stroke="#8a9a40" stroke-width="0.5"/>
<polygon points="632.0,557.0 656.0,557.0 652.0,561.0 636.0,561.0" fill="#d4de7e" stroke="#8a9a40" stroke-width="0.4"/>
<polygon points="720.0,557.0 746.0,557.0 742.0,561.0 724.0,561.0" fill="#d4de7e" stroke="#8a9a40" stroke-width="0.4"/>
<rect x="596.3" y="560.3" width="189.2" height="17.4" fill="#d4de7e" stroke="#8a9a40" stroke-width="0.6"/>
<rect x="536.0" y="584.3" width="45.7" height="5.2" fill="#d4de7e" stroke="#8a9a40" stroke-width="0.6" rx="2"/>
<rect x="536.0" y="653.0" width="45.7" height="6.0" fill="#d4de7e" stroke="#8a9a40" stroke-width="0.6" rx="2"/>
<rect x="531.2" y="589.3" width="80.4" height="64.1" fill="#d4de7e" stroke="#8a9a40" stroke-width="0.6" rx="4"/>
<line x1="544.5" y1="589.3" x2="544.5" y2="653.4" stroke="#8a9a40" stroke-width="0.6"/>
<line x1="557.5" y1="589.3" x2="557.5" y2="653.4" stroke="#8a9a40" stroke-width="0.6"/>
<rect x="647.1" y="604.5" width="148.6" height="29.9" fill="#b9a05a" stroke="#8d7a45" stroke-width="0.6"/>
<rect x="648.5" y="606.0" width="145.8" height="27.0" fill="none" stroke="#a38a4a" stroke-width="0.8" rx="8"/>
<polygon points="677.0,636.0 683.0,636.0 682.0,634.4 678.0,634.4" fill="#d4de7e" stroke="#8a9a40" stroke-width="0.4"/>
<polygon points="759.0,636.0 765.0,636.0 764.0,634.4 760.0,634.4" fill="#d4de7e" stroke="#8a9a40" stroke-width="0.4"/>
<rect x="638.4" y="667.0" width="12.6" height="19.7" fill="#d4de7e" stroke="#8a9a40" stroke-width="0.6" rx="1.5"/>
<rect x="797.0" y="667.0" width="12.4" height="19.7" fill="#d4de7e" stroke="#8a9a40" stroke-width="0.6" rx="1.5"/>
<rect x="650.0" y="654.0" width="148.5" height="34.2" fill="#d4de7e" stroke="#8a9a40" stroke-width="0.6" rx="3"/>
<line x1="650.0" y1="677.0" x2="798.5" y2="677.0" stroke="#8a9a40" stroke-width="0.6"/>
<line x1="650.0" y1="682.5" x2="798.5" y2="682.5" stroke="#8a9a40" stroke-width="0.4"/>
<text x="846.7" y="623.5" font-family="Liberation Sans" font-size="15.50" font-style="italic" font-weight="bold" fill="#111" stroke="#111" stroke-width="0.3" letter-spacing="0" textLength="97.5" lengthAdjust="spacingAndGlyphs">Patio</text>
<line x1="513.2" y1="553.8" x2="513.2" y2="692" stroke="#2a2a2a" stroke-width="1.4" stroke-dasharray="1.8,1.0"/>
<line x1="514" y1="691.4" x2="1248.4" y2="691.4" stroke="#555" stroke-width="1.3" stroke-dasharray="4.5,1.7"/>
<rect x="976" y="709" width="558" height="166.5" fill="#fbe6b0"/>
<line x1="973" y1="709" x2="1538" y2="709" stroke="#1a1712" stroke-width="2.5" stroke-dasharray="14,5" stroke-dashoffset="4"/>
<line x1="973" y1="876.2" x2="1538" y2="876.2" stroke="#1a1712" stroke-width="2.6" stroke-dasharray="14,5" stroke-dashoffset="13.8"/>
<line x1="975.2" y1="708" x2="975.2" y2="877.3" stroke="#1a1712" stroke-width="4.8" stroke-dasharray="5.6,2.5"/>
<line x1="1535.2" y1="708" x2="1535.2" y2="877.5" stroke="#1a1712" stroke-width="4.2" stroke-dasharray="5.4,2.8"/>
<rect x="1191.4" y="719.0" width="49.0" height="4.5" fill="#b9a05a" stroke="#8d7a45" stroke-width="0.6" rx="2.2"/>
<rect x="1196.4" y="722.0" width="39.0" height="10.0" fill="#b9a05a" stroke="#8d7a45" stroke-width="0.5" rx="4"/>
<rect x="1267.5" y="719.0" width="48.6" height="4.5" fill="#b9a05a" stroke="#8d7a45" stroke-width="0.6" rx="2.2"/>
<rect x="1272.5" y="722.0" width="38.6" height="10.0" fill="#b9a05a" stroke="#8d7a45" stroke-width="0.5" rx="4"/>
<rect x="1192.0" y="796.2" width="49.0" height="4.5" fill="#b9a05a" stroke="#8d7a45" stroke-width="0.6" rx="2.2"/>
<rect x="1197.0" y="787.0" width="39.0" height="10.7" fill="#b9a05a" stroke="#8d7a45" stroke-width="0.5" rx="4"/>
<rect x="1268.5" y="796.2" width="48.5" height="4.5" fill="#b9a05a" stroke="#8d7a45" stroke-width="0.6" rx="2.2"/>
<rect x="1273.5" y="787.0" width="38.5" height="10.7" fill="#b9a05a" stroke="#8d7a45" stroke-width="0.5" rx="4"/>
<rect x="1118.9" y="749.4" width="12.1" height="21.3" fill="#b9a05a" stroke="#8d7a45" stroke-width="0.6" rx="3"/>
<rect x="1129.0" y="752.0" width="26.0" height="16.0" fill="#b9a05a" stroke="#8d7a45" stroke-width="0.5" rx="2"/>
<rect x="1379.0" y="748.8" width="12.4" height="21.9" fill="#b9a05a" stroke="#8d7a45" stroke-width="0.6" rx="3"/>
<rect x="1356.0" y="752.0" width="25.0" height="16.0" fill="#b9a05a" stroke="#8d7a45" stroke-width="0.5" rx="2"/>
<path d="M1173.5,731.5 H1337.5 Q1357.6,731.5 1357.6,751.5 V768.6 Q1357.6,788.6 1337.5,788.6 H1173.5 Q1153.5,788.6 1153.5,768.6 V751.5 Q1153.5,731.5 1173.5,731.5 Z" fill="#b9a05a" stroke="#4a3f20" stroke-width="0.9"/>
<rect x="1459.2" y="719.9" width="5.5" height="83.7" fill="#b9a05a" stroke="#8d7a45" stroke-width="0.6"/>
<line x1="1459.2" y1="761.5" x2="1464.7" y2="761.5" stroke="#8d7a45" stroke-width="0.6"/>
<rect x="1464.7" y="715.9" width="54.8" height="91.3" fill="#b9a05a" stroke="#8d7a45" stroke-width="0.6"/>
<text x="992.7" y="829.2" font-family="Liberation Sans" font-size="12.89" font-style="normal" font-weight="bold" fill="#111" stroke="#111" stroke-width="0.3" letter-spacing="0.8" textLength="525.8" lengthAdjust="spacingAndGlyphs">outdoor (covered) dining space</text>
<text x="376.8" y="785.6" font-family="Liberation Sans" font-size="17.42" font-style="italic" font-weight="bold" fill="#111" stroke="#111" stroke-width="0.3" letter-spacing="0" textLength="264.2" lengthAdjust="spacingAndGlyphs">Relaxing area</text>
<path d="M157.2,601.3 L100.7,590.1 M158.3,601.0 L115.1,586.1 M159.8,600.8 L133.4,583.1 M160.1,600.1 L136.8,575.2 M161.9,600.8 L159.1,583.1 M162.7,600.4 L170.0,578.3 M164.2,600.3 L188.3,577.4 M164.2,601.0 L188.7,586.6 M167.1,600.9 L224.5,585.3 M166.5,601.8 L216.6,596.2 M165.7,602.3 L206.6,602.7 M167.4,603.0 L228.8,610.5 M165.9,603.5 L209.2,617.1 M165.9,604.5 L209.2,629.3 M164.2,603.9 L188.3,622.7 M163.3,603.7 L177.0,619.7 M162.7,604.6 L170.0,631.0 M161.0,604.6 L148.2,631.0 M160.7,604.0 L144.7,623.2 M158.4,604.2 L115.5,626.2 M157.8,603.5 L108.1,617.1 M157.5,602.8 L104.6,608.8 M157.1,602.5 L100.2,604.4 M158.1,601.9 L111.6,597.9 " stroke="#5e3d2a" stroke-width="1.7" stroke-linecap="round" fill="none"/>
<path d="M162.1,602.3 L116.0,593.1 M162.1,602.3 L126.8,590.1 M162.1,602.3 L140.6,587.9 M162.1,602.3 L143.1,582.0 M162.1,602.3 L159.8,587.9 M162.1,602.3 L168.0,584.3 M162.1,602.3 L181.8,583.6 M162.1,602.3 L182.1,590.5 M162.1,602.3 L208.9,589.5 M162.1,602.3 L203.0,597.7 M162.1,602.3 L195.5,602.6 M162.1,602.3 L212.1,608.4 M162.1,602.3 L197.4,613.4 M162.1,602.3 L197.4,622.5 M162.1,602.3 L181.8,617.6 M162.1,602.3 L173.3,615.3 M162.1,602.3 L168.0,623.8 M162.1,602.3 L151.7,623.8 M162.1,602.3 L149.0,618.0 M162.1,602.3 L127.1,620.2 M162.1,602.3 L121.6,613.4 M162.1,602.3 L119.0,607.2 M162.1,602.3 L115.7,603.9 M162.1,602.3 L124.2,599.0 " stroke="#c98a5a" stroke-width="0.8" fill="none"/>
<polygon points="162.5,600.4 126.5,595.2 161.7,604.2" fill="#ee913f"/><polygon points="162.7,600.5 134.8,592.9 161.5,604.1" fill="#ee913f"/><polygon points="163.2,600.7 145.5,591.2 161.0,603.9" fill="#ee913f"/><polygon points="163.5,601.0 147.4,586.6 160.7,603.6" fill="#ee913f"/><polygon points="164.0,602.0 160.4,591.2 160.2,602.6" fill="#ee913f"/><polygon points="163.9,602.9 166.7,588.4 160.3,601.7" fill="#ee913f"/><polygon points="163.4,603.7 177.3,587.9 160.8,600.9" fill="#ee913f"/><polygon points="163.1,603.9 177.5,593.2 161.1,600.7" fill="#ee913f"/><polygon points="162.6,604.1 198.3,592.4 161.6,600.5" fill="#ee913f"/><polygon points="162.3,604.2 193.7,598.8 161.9,600.4" fill="#ee913f"/><polygon points="162.1,604.2 187.9,602.5 162.1,600.4" fill="#ee913f"/><polygon points="161.9,604.2 200.8,607.1 162.3,600.4" fill="#ee913f"/><polygon points="161.5,604.1 189.4,610.9 162.7,600.5" fill="#ee913f"/><polygon points="161.2,603.9 189.4,618.0 163.0,600.7" fill="#ee913f"/><polygon points="160.9,603.8 177.3,614.1 163.3,600.8" fill="#ee913f"/><polygon points="160.7,603.5 170.7,612.4 163.5,601.1" fill="#ee913f"/><polygon points="160.3,602.8 166.7,618.9 163.9,601.8" fill="#ee913f"/><polygon points="160.4,601.5 154.0,618.9 163.8,603.1" fill="#ee913f"/><polygon points="160.6,601.1 152.0,614.4 163.6,603.5" fill="#ee913f"/><polygon points="161.2,600.6 135.1,616.2 163.0,604.0" fill="#ee913f"/><polygon points="161.6,600.5 130.8,610.9 162.6,604.1" fill="#ee913f"/><polygon points="161.9,600.4 128.8,606.1 162.3,604.2" fill="#ee913f"/><polygon points="162.0,600.4 126.2,603.5 162.2,604.2" fill="#ee913f"/><polygon points="162.3,600.4 132.8,599.7 161.9,604.2" fill="#ee913f"/>
<ellipse cx="162.1" cy="602.3" rx="4.0" ry="2.5" fill="#f39a45"/>
<path d="M538.1,856.7 L481.6,845.5 M539.2,856.4 L496.0,841.5 M540.7,856.2 L514.3,838.5 M541.0,855.5 L517.7,830.6 M542.8,856.2 L540.0,838.5 M543.6,855.8 L550.9,833.7 M545.1,855.7 L569.2,832.8 M545.1,856.4 L569.6,842.0 M548.0,856.3 L605.4,840.7 M547.4,857.2 L597.5,851.6 M546.6,857.7 L587.5,858.1 M548.3,858.4 L609.7,865.9 M546.8,858.9 L590.1,872.5 M546.8,859.9 L590.1,884.7 M545.1,859.3 L569.2,878.1 M544.2,859.1 L557.9,875.1 M543.6,860.0 L550.9,886.4 M541.9,860.0 L529.1,886.4 M541.6,859.4 L525.6,878.6 M539.3,859.6 L496.4,881.6 M538.7,858.9 L489.0,872.5 M538.4,858.2 L485.5,864.2 M538.0,857.9 L481.1,859.8 M539.0,857.3 L492.5,853.3 " stroke="#5e3d2a" stroke-width="1.7" stroke-linecap="round" fill="none"/>
<path d="M543.0,857.7 L496.9,848.6 M543.0,857.7 L507.8,845.6 M543.0,857.7 L521.5,843.3 M543.0,857.7 L524.0,837.4 M543.0,857.7 L540.8,843.3 M543.0,857.7 L548.9,839.7 M543.0,857.7 L562.6,839.0 M543.0,857.7 L563.0,845.9 M543.0,857.7 L589.8,845.0 M543.0,857.7 L583.9,853.1 M543.0,857.7 L576.4,858.0 M543.0,857.7 L593.0,863.9 M543.0,857.7 L578.3,868.8 M543.0,857.7 L578.3,878.0 M543.0,857.7 L562.6,873.0 M543.0,857.7 L554.2,870.8 M543.0,857.7 L548.9,879.2 M543.0,857.7 L532.6,879.2 M543.0,857.7 L530.0,873.4 M543.0,857.7 L508.1,875.6 M543.0,857.7 L502.5,868.8 M543.0,857.7 L499.9,862.6 M543.0,857.7 L496.6,859.3 M543.0,857.7 L505.1,854.4 " stroke="#c98a5a" stroke-width="0.8" fill="none"/>
<polygon points="543.4,855.8 507.4,850.6 542.6,859.6" fill="#ee913f"/><polygon points="543.6,855.9 515.7,848.3 542.4,859.5" fill="#ee913f"/><polygon points="544.1,856.1 526.4,846.6 541.9,859.3" fill="#ee913f"/><polygon points="544.4,856.4 528.3,842.0 541.6,859.0" fill="#ee913f"/><polygon points="544.9,857.4 541.3,846.6 541.1,858.0" fill="#ee913f"/><polygon points="544.8,858.3 547.6,843.8 541.2,857.1" fill="#ee913f"/><polygon points="544.3,859.1 558.2,843.3 541.7,856.3" fill="#ee913f"/><polygon points="544.0,859.3 558.4,848.6 542.0,856.1" fill="#ee913f"/><polygon points="543.5,859.5 579.2,847.8 542.5,855.9" fill="#ee913f"/><polygon points="543.2,859.6 574.6,854.2 542.8,855.8" fill="#ee913f"/><polygon points="543.0,859.6 568.8,857.9 543.0,855.8" fill="#ee913f"/><polygon points="542.8,859.6 581.7,862.5 543.2,855.8" fill="#ee913f"/><polygon points="542.4,859.5 570.3,866.3 543.6,855.9" fill="#ee913f"/><polygon points="542.1,859.3 570.3,873.4 543.9,856.1" fill="#ee913f"/><polygon points="541.8,859.2 558.2,869.5 544.2,856.2" fill="#ee913f"/><polygon points="541.6,858.9 551.6,867.8 544.4,856.5" fill="#ee913f"/><polygon points="541.2,858.2 547.6,874.3 544.8,857.2" fill="#ee913f"/><polygon points="541.3,856.9 534.9,874.3 544.7,858.5" fill="#ee913f"/><polygon points="541.5,856.5 532.9,869.8 544.5,858.9" fill="#ee913f"/><polygon points="542.1,856.0 516.0,871.6 543.9,859.4" fill="#ee913f"/><polygon points="542.5,855.9 511.7,866.3 543.5,859.5" fill="#ee913f"/><polygon points="542.8,855.8 509.6,861.5 543.2,859.6" fill="#ee913f"/><polygon points="542.9,855.8 507.1,858.9 543.1,859.6" fill="#ee913f"/><polygon points="543.2,855.8 513.7,855.1 542.8,859.6" fill="#ee913f"/>
<ellipse cx="543.0" cy="857.7" rx="4.0" ry="2.5" fill="#f39a45"/>
<ellipse cx="164.8" cy="724.8" rx="57.3" ry="24.0" fill="#f4984a"/>
<path d="M219.0,724.6 L224.8,724.6 M218.8,726.8 L224.3,727.0 M218.3,728.5 L224.8,728.9 M217.7,729.8 L224.6,730.5 M216.7,731.6 L223.1,732.4 M215.2,733.3 L220.4,734.2 M213.2,735.3 L220.4,736.9 M211.5,736.6 L216.6,738.0 M208.5,738.6 L215.4,740.7 M205.9,740.0 L211.0,741.8 M202.4,741.6 L206.2,743.2 M199.4,742.7 L203.4,744.8 M197.3,743.4 L200.7,745.4 M193.5,744.5 L197.8,747.5 M190.0,745.4 L193.4,748.1 M185.3,746.3 L187.7,748.9 M181.5,746.9 L183.1,749.2 M178.4,747.3 L179.9,749.8 M172.9,747.8 L173.9,750.6 M169.5,748.0 L170.1,751.1 M164.9,748.0 L164.9,750.7 M159.9,748.0 L159.2,751.2 M156.9,747.8 L155.8,750.9 M152.1,747.4 L150.1,750.9 M147.6,746.8 L145.6,749.4 M143.1,746.1 L140.8,748.3 M140.3,745.6 L136.8,748.6 M137.1,744.8 L133.6,747.4 M133.7,743.9 L129.4,746.5 M129.2,742.3 L124.4,744.7 M125.9,741.0 L121.3,742.9 M123.3,739.8 L117.7,741.8 M120.8,738.4 L115.3,740.1 M118.2,736.7 L110.8,738.6 M116.5,735.4 L109.8,736.9 M115.1,734.1 L108.0,735.4 M113.1,731.9 L104.8,733.0 M111.9,729.9 L105.8,730.5 M111.3,728.5 L103.8,729.1 M110.8,727.1 L104.0,727.4 M110.6,725.1 L104.9,725.1 M110.7,723.4 L102.8,723.2 M111.1,721.5 L105.1,721.1 M112.0,719.5 L103.9,718.7 M113.0,718.0 L106.4,717.1 M114.7,715.9 L107.1,714.5 M116.8,714.0 L109.5,712.3 M118.3,712.8 L112.6,711.3 M120.8,711.2 L114.0,709.2 M124.2,709.4 L119.9,707.7 M126.0,708.6 L121.6,706.8 M129.1,707.3 L124.6,705.0 M133.1,705.9 L129.5,703.8 M135.6,705.2 L131.9,702.8 M139.9,704.1 L136.6,701.4 M145.0,703.2 L142.2,700.1 M148.1,702.7 L145.8,699.7 M152.5,702.2 L151.3,699.9 M157.2,701.8 L156.1,698.4 M161.4,701.6 L160.8,698.2 M164.6,701.6 L164.5,698.7 M168.2,701.6 L168.7,698.4 M172.3,701.8 L173.1,699.4 M176.8,702.1 L178.1,699.7 M181.2,702.6 L182.9,700.4 M184.5,703.1 L186.6,700.8 M188.6,703.9 L191.5,701.4 M192.2,704.7 L196.5,701.7 M196.9,706.1 L200.3,704.1 M199.6,707.0 L203.8,704.8 M202.9,708.3 L206.9,706.5 M206.5,709.9 L213.2,707.6 M208.6,711.1 L214.2,709.4 M210.6,712.3 L215.3,711.0 M213.0,714.1 L218.4,712.9 M215.2,716.2 L220.6,715.3 M216.0,717.2 L224.1,716.0 M217.5,719.4 L223.1,718.8 M218.4,721.2 L223.6,720.8 M218.9,723.0 L227.5,722.7 " stroke="#c06a2a" stroke-width="0.9" fill="none"/>
<path d="M221.3,726.0 L203.2,725.4 L221.3,723.5 M219.4,731.2 L193.5,726.9 L220.6,728.8 M217.0,734.1 L201.9,731.0 L218.9,731.9 M209.7,739.6 L199.7,733.5 L212.9,737.6 M201.0,743.4 L193.6,736.9 L205.2,741.8 M195.3,745.2 L182.4,735.3 L199.9,743.8 M192.0,746.1 L177.1,735.0 L196.8,744.8 M177.1,748.5 L173.9,737.4 L182.5,747.8 M160.7,749.0 L166.4,739.4 L166.3,749.0 M155.3,748.7 L158.8,743.0 L160.9,749.0 M150.8,748.3 L157.3,737.4 L156.3,748.8 M135.4,745.5 L149.2,739.3 L140.4,746.7 M126.0,742.5 L143.0,736.3 L130.3,744.0 M119.2,739.2 L143.8,732.5 L122.8,741.0 M113.2,734.8 L130.0,733.2 L115.8,736.9 M110.4,731.4 L137.4,729.4 L112.2,733.7 M108.4,726.6 L125.4,728.3 L109.1,729.0 M108.6,722.1 L131.5,724.9 L108.3,724.5 M109.3,720.0 L136.2,722.2 L108.5,722.4 M113.5,714.6 L125.1,718.9 L111.4,716.9 M119.6,710.2 L129.5,716.1 L116.5,712.2 M125.9,707.2 L141.2,715.3 L122.0,708.9 M134.8,704.2 L148.1,716.0 L130.2,705.6 M146.6,701.8 L149.5,711.1 L141.3,702.7 M154.6,700.9 L153.2,707.7 L149.1,701.5 M158.9,700.7 L161.1,711.8 L153.3,701.1 M169.2,700.6 L167.2,709.2 L163.6,700.6 M186.0,702.3 L172.4,713.0 L180.7,701.5 M192.4,703.6 L179.6,711.6 L187.4,702.6 M205.5,708.0 L186.1,713.7 L201.4,706.3 M208.6,709.5 L191.1,714.5 L204.8,707.7 M211.4,711.0 L192.8,716.6 L207.9,709.1 M216.4,714.9 L201.5,717.8 L213.8,712.7 M220.9,721.7 L203.0,721.7 L219.9,719.3 " stroke="#c9682a" stroke-width="0.6" fill="none" opacity="0.8"/>
<ellipse cx="168.4" cy="839.6" rx="56.9" ry="24.5" fill="#f4984a"/>
<path d="M222.2,839.4 L229.3,839.4 M222.1,841.5 L230.0,841.8 M221.7,842.9 L228.8,843.4 M220.9,844.9 L226.9,845.5 M219.4,847.2 L226.0,848.2 M218.1,848.7 L225.3,850.1 M216.0,850.7 L221.9,852.1 M214.2,852.1 L220.1,853.7 M211.9,853.5 L218.1,855.5 M209.4,855.0 L214.8,857.0 M206.5,856.4 L212.5,859.0 M203.0,857.8 L208.4,860.5 M199.3,859.0 L202.8,861.2 M196.4,859.8 L200.8,863.0 M192.2,860.9 L194.7,863.1 M189.8,861.4 L192.4,864.1 M185.9,862.0 L187.9,864.5 M181.9,862.6 L183.7,865.8 M176.2,863.1 L177.4,866.7 M173.4,863.2 L174.1,866.6 M168.1,863.3 L168.0,865.8 M163.4,863.2 L162.6,867.0 M160.6,863.1 L159.3,866.8 M156.0,862.7 L154.5,865.6 M150.8,862.0 L148.1,865.4 M148.5,861.6 L146.0,864.4 M143.9,860.7 L141.0,863.2 M140.8,860.0 L137.6,862.4 M136.4,858.7 L133.2,860.5 M133.3,857.6 L129.0,859.9 M131.1,856.7 L126.7,858.7 M127.3,854.9 L121.9,856.9 M125.4,853.9 L118.5,856.2 M122.2,851.8 L114.8,853.7 M120.8,850.7 L115.4,852.0 M119.0,849.1 L111.8,850.5 M117.3,847.1 L112.0,847.9 M116.1,845.2 L107.9,846.1 M115.1,843.0 L109.1,843.4 M114.8,841.8 L106.4,842.1 M114.6,839.5 L106.9,839.5 M114.7,838.1 L109.3,838.0 M115.3,835.7 L108.7,835.2 M115.8,834.5 L107.6,833.7 M117.3,832.2 L109.7,831.0 M118.3,830.9 L110.7,829.6 M120.0,829.2 L112.6,827.6 M122.4,827.2 L117.0,825.8 M124.9,825.6 L118.1,823.4 M127.1,824.4 L122.8,822.8 M130.4,822.8 L126.1,820.9 M132.8,821.8 L129.0,819.9 M136.0,820.7 L132.4,818.6 M139.9,819.5 L136.6,817.1 M144.5,818.4 L141.7,815.9 M147.8,817.7 L145.6,815.3 M151.4,817.1 L149.8,814.9 M155.3,816.6 L154.0,814.3 M160.5,816.1 L159.4,813.0 M163.5,816.0 L162.9,813.0 M169.3,815.9 L169.4,813.4 M173.3,816.0 L173.9,813.0 M176.8,816.2 L178.1,812.6 M180.7,816.5 L182.3,813.5 M185.4,817.1 L188.2,813.5 M188.7,817.6 L191.7,814.3 M193.2,818.6 L196.7,815.7 M196.4,819.3 L199.7,816.9 M199.3,820.2 L202.5,818.1 M202.7,821.3 L207.6,818.7 M206.1,822.7 L210.1,820.9 M208.8,823.9 L214.9,821.5 M212.4,825.9 L218.6,824.0 M214.1,827.0 L219.2,825.6 M216.2,828.7 L222.2,827.3 M217.9,830.2 L224.1,829.0 M219.5,832.1 L227.6,830.9 M221.0,834.5 L227.9,833.8 M221.5,835.7 L229.9,835.0 M222.0,837.6 L228.5,837.3 " stroke="#c06a2a" stroke-width="0.9" fill="none"/>
<path d="M224.6,839.5 L201.0,838.9 L224.3,837.0 M223.0,845.4 L197.4,842.0 L224.0,842.9 M222.0,847.0 L197.5,843.8 L223.4,844.6 M217.2,851.8 L191.3,845.7 L219.7,849.6 M208.2,857.1 L191.0,848.3 L212.0,855.2 M198.6,860.4 L191.9,853.4 L203.2,859.0 M190.7,862.3 L186.0,856.1 L195.7,861.2 M185.0,863.2 L180.9,857.8 L190.3,862.4 M173.6,864.2 L171.0,856.0 L179.2,863.9 M157.4,863.9 L163.2,857.8 L163.0,864.2 M152.2,863.3 L156.5,856.5 L157.6,863.9 M138.2,860.5 L152.8,853.3 L143.1,861.7 M130.5,857.9 L143.1,853.5 L134.8,859.4 M122.7,854.0 L139.4,850.4 L126.1,855.9 M121.7,853.4 L146.2,846.0 L125.1,855.3 M114.4,846.4 L142.5,844.2 L116.2,848.8 M112.6,842.3 L132.0,842.5 L113.5,844.7 M112.2,839.9 L133.9,839.3 L112.6,842.3 M114.2,833.1 L130.2,835.9 L113.0,835.5 M115.7,831.0 L133.5,833.6 L114.0,833.4 M120.8,826.5 L142.9,832.3 L118.1,828.6 M126.1,823.3 L139.2,828.4 L122.6,825.3 M137.9,818.8 L143.3,824.2 L133.4,820.3 M146.8,816.8 L152.7,826.1 L141.8,817.8 M158.5,815.3 L159.3,823.9 L153.0,815.8 M161.5,815.1 L164.6,827.1 L155.9,815.5 M178.3,815.3 L172.1,825.9 L172.8,814.9 M181.8,815.6 L174.5,828.0 L176.3,815.1 M198.1,818.6 L186.0,824.7 L193.2,817.4 M203.3,820.2 L188.9,827.1 L198.7,818.8 M213.8,825.0 L189.1,831.2 L210.3,823.1 M218.6,828.5 L204.3,829.1 L215.8,826.4 M221.8,831.9 L199.5,833.5 L219.8,829.6 M224.1,836.5 L201.9,837.5 L223.1,834.1 " stroke="#c9682a" stroke-width="0.6" fill="none" opacity="0.8"/>
<ellipse cx="868.0" cy="857.7" rx="56.9" ry="24.6" fill="#f4984a"/>
<path d="M921.8,857.4 L930.3,857.4 M921.7,859.3 L928.9,859.5 M921.3,861.1 L928.3,861.5 M920.1,863.7 L925.6,864.3 M919.0,865.3 L925.6,866.3 M917.4,867.2 L924.4,868.5 M916.2,868.3 L923.7,869.9 M913.9,870.1 L918.4,871.4 M912.2,871.3 L917.9,873.1 M909.0,873.1 L913.8,874.9 M906.6,874.3 L911.2,876.3 M903.3,875.7 L908.6,878.4 M900.5,876.7 L905.2,879.4 M895.5,878.2 L898.4,880.3 M891.6,879.1 L895.0,882.1 M887.8,879.8 L890.1,882.4 M884.9,880.3 L887.0,883.1 M879.5,881.0 L881.1,884.1 M876.7,881.2 L877.8,884.1 M872.7,881.4 L873.2,883.8 M868.9,881.5 L869.0,885.1 M864.2,881.4 L863.6,885.2 M860.1,881.3 L859.2,883.9 M855.4,880.8 L854.0,883.4 M851.6,880.4 L849.0,884.0 M846.6,879.6 L843.4,882.8 M843.3,878.9 L839.5,882.2 M839.1,877.8 L835.2,880.4 M836.0,876.8 L832.8,878.8 M832.7,875.7 L828.2,877.9 M829.5,874.4 L824.2,876.7 M827.4,873.3 L823.3,874.9 M823.9,871.4 L819.3,872.8 M822.1,870.2 L816.7,871.6 M820.2,868.7 L813.3,870.3 M817.9,866.4 L812.2,867.4 M816.7,864.9 L810.7,865.8 M815.6,863.2 L809.2,863.9 M814.9,861.7 L809.2,862.2 M814.4,859.8 L806.0,860.2 M814.2,857.7 L808.2,857.7 M814.4,855.4 L805.8,855.1 M814.8,854.0 L809.2,853.6 M815.5,852.4 L810.1,851.9 M816.7,850.5 L811.4,849.7 M818.0,848.8 L812.4,847.8 M820.1,846.8 L812.7,845.2 M822.4,845.1 L816.7,843.5 M824.3,843.8 L818.6,842.0 M826.9,842.3 L822.0,840.5 M829.3,841.2 L824.8,839.3 M833.8,839.3 L830.2,837.4 M836.4,838.4 L832.0,835.8 M840.5,837.2 L837.5,835.0 M843.1,836.6 L840.3,834.2 M847.2,835.7 L844.6,833.0 M852.3,834.9 L849.9,831.5 M856.2,834.5 L855.1,832.2 M858.6,834.3 L857.2,830.9 M864.6,833.9 L864.2,830.9 M868.2,833.9 L868.2,831.6 M872.0,834.0 L872.6,830.2 M877.1,834.2 L878.5,830.7 M881.6,834.7 L883.1,832.1 M883.8,834.9 L885.5,832.5 M888.7,835.7 L891.6,832.6 M893.3,836.7 L896.9,833.7 M896.4,837.5 L900.6,834.5 M899.6,838.4 L903.8,835.9 M902.2,839.3 L907.2,836.6 M905.7,840.7 L911.5,838.0 M909.1,842.3 L913.9,840.6 M911.1,843.4 L916.0,841.8 M914.1,845.4 L920.6,843.6 M915.6,846.6 L920.4,845.4 M917.8,848.6 L924.5,847.4 M919.1,850.2 L924.8,849.4 M920.4,852.2 L925.5,851.7 M921.1,853.8 L927.8,853.3 M921.7,856.3 L929.2,856.1 " stroke="#c06a2a" stroke-width="0.9" fill="none"/>
<path d="M924.1,858.8 L902.3,858.3 L924.1,856.4 M922.5,863.7 L910.2,860.7 L923.6,861.2 M919.7,867.4 L892.8,861.7 L921.7,865.0 M914.9,871.4 L896.0,865.7 L917.7,869.2 M908.6,874.8 L898.7,870.5 L912.3,873.0 M902.3,877.4 L888.4,868.6 L906.5,875.8 M887.1,881.1 L880.7,869.5 L892.2,880.1 M881.9,881.8 L876.7,872.6 L887.3,881.0 M864.9,882.5 L869.4,871.6 L870.5,882.5 M859.2,882.2 L866.0,870.9 L864.8,882.5 M851.1,881.4 L857.2,875.9 L856.5,882.0 M842.7,879.9 L855.5,869.7 L847.8,880.9 M833.7,877.4 L841.8,872.5 L838.3,878.8 M822.4,872.2 L846.2,866.7 L825.9,874.1 M822.0,871.9 L845.6,864.3 L825.4,873.9 M813.9,864.3 L829.3,864.5 L815.6,866.7 M811.9,858.8 L825.2,860.8 L812.4,861.2 M812.1,855.2 L838.7,857.9 L811.8,857.6 M814.1,850.7 L842.0,855.3 L812.8,853.1 M815.9,848.5 L837.5,852.7 L814.0,850.8 M819.7,845.0 L845.4,852.0 L817.1,847.2 M825.6,841.4 L836.1,845.2 L822.1,843.4 M837.5,836.8 L851.2,846.9 L833.0,838.3 M846.6,834.7 L851.2,841.5 L841.5,835.8 M851.8,833.9 L857.1,843.3 L846.5,834.8 M866.8,832.9 L866.5,844.7 L861.2,833.1 M877.4,833.2 L871.5,846.0 L871.8,832.9 M883.8,833.9 L880.0,841.1 L878.3,833.3 M896.5,836.3 L879.0,846.7 L891.6,835.2 M905.7,839.3 L890.8,843.7 L901.4,837.7 M913.3,843.0 L890.4,848.4 L909.8,841.1 M918.4,846.7 L894.2,850.7 L915.6,844.6 M919.3,847.6 L896.6,852.5 L916.8,845.4 M923.9,855.5 L909.4,854.8 L923.2,853.1 " stroke="#c9682a" stroke-width="0.6" fill="none" opacity="0.8"/>
<path d="M146.6,753.2 Q153.4,754.3 158.7,758.1 Q166.3,755.2 173.5,755.1 Q178.4,757.4 179.0,761.8 Q190.8,759.9 199.6,760.7 Q199.9,764.8 193.5,769.5 Q204.0,770.9 208.6,773.8 Q206.2,777.0 197.1,779.6 Q204.0,782.9 204.1,786.1 Q199.3,788.2 189.3,788.6 Q193.3,793.3 191.4,796.6 Q182.5,797.3 171.4,795.2 Q167.8,799.4 160.8,801.1 Q152.3,800.5 145.3,796.9 Q136.3,799.4 127.9,798.8 Q123.1,796.7 122.7,792.6 Q113.6,793.1 108.4,791.3 Q105.7,788.4 109.2,784.5 Q100.1,782.8 97.2,779.8 Q98.8,776.6 106.9,774.0 Q101.1,770.4 102.1,767.1 Q107.0,765.1 116.7,765.0 Q114.3,760.6 117.4,757.7 Q125.5,757.0 135.5,759.2 Q139.5,754.9 146.6,753.2 Z" fill="#93bf5a" stroke="#4f7a2f" stroke-width="0.8"/>
<path d="M151.8,777.5 C145.0,769.4 168.2,764.6 158.7,758.1 M151.8,777.5 C154.6,769.0 180.4,769.4 179.0,761.8 M151.8,777.5 C163.9,770.7 185.9,776.5 193.5,769.5 M151.8,777.5 C170.2,774.2 182.5,784.0 197.1,779.6 M151.8,777.5 C171.6,778.4 171.6,789.5 189.3,788.6 M151.8,777.5 C168.0,782.5 155.1,792.1 171.4,795.2 M151.8,777.5 C158.8,785.5 135.6,790.4 145.3,796.9 M151.8,777.5 C148.0,785.9 122.3,784.9 122.7,792.6 M151.8,777.5 C138.9,784.0 117.6,777.8 109.2,784.5 M151.8,777.5 C132.9,780.2 122.3,770.1 106.9,774.0 M151.8,777.5 C132.2,775.9 134.5,764.8 116.7,765.0 M151.8,777.5 C136.6,771.9 151.2,762.8 135.5,759.2 " fill="none" stroke="#4f7a2f" stroke-width="0.8"/>
<path d="M715.3,831.2 Q722.1,832.4 727.4,836.3 Q735.0,833.3 742.2,833.2 Q747.1,835.6 747.7,840.1 Q759.5,838.2 768.3,839.0 Q768.6,843.3 762.2,848.2 Q772.7,849.7 777.3,852.7 Q774.9,856.0 765.8,858.7 Q772.7,862.1 772.8,865.4 Q768.0,867.7 758.0,868.1 Q762.0,872.9 760.1,876.4 Q751.2,877.1 740.1,874.9 Q736.5,879.3 729.5,881.0 Q721.0,880.4 714.0,876.7 Q705.0,879.2 696.6,878.7 Q691.8,876.5 691.4,872.2 Q682.3,872.7 677.1,870.9 Q674.4,867.8 677.9,863.8 Q668.8,862.0 665.9,858.9 Q667.5,855.6 675.6,852.9 Q669.8,849.1 670.8,845.7 Q675.7,843.6 685.4,843.5 Q683.0,838.9 686.1,835.9 Q694.2,835.2 704.2,837.5 Q708.2,833.0 715.3,831.2 Z" fill="#93bf5a" stroke="#4f7a2f" stroke-width="0.8"/>
<path d="M720.5,856.5 C713.7,848.1 736.9,843.1 727.4,836.3 M720.5,856.5 C723.3,847.7 749.1,848.1 747.7,840.1 M720.5,856.5 C732.6,849.4 754.6,855.5 762.2,848.2 M720.5,856.5 C738.9,853.1 751.2,863.3 765.8,858.7 M720.5,856.5 C740.3,857.4 740.3,869.0 758.0,868.1 M720.5,856.5 C736.7,861.7 723.8,871.7 740.1,874.9 M720.5,856.5 C727.5,864.9 704.3,870.0 714.0,876.7 M720.5,856.5 C716.7,865.3 691.0,864.2 691.4,872.2 M720.5,856.5 C707.6,863.3 686.3,856.8 677.9,863.8 M720.5,856.5 C701.6,859.3 691.0,848.8 675.6,852.9 M720.5,856.5 C700.9,854.8 703.2,843.3 685.4,843.5 M720.5,856.5 C705.3,850.7 719.9,841.2 704.2,837.5 " fill="none" stroke="#4f7a2f" stroke-width="0.8"/>
<path d="M1161.3,625.0 Q1168.1,626.1 1173.4,630.0 Q1181.0,627.0 1188.2,626.9 Q1193.1,629.3 1193.7,633.8 Q1205.5,631.9 1214.3,632.7 Q1214.6,636.9 1208.2,641.8 Q1218.7,643.3 1223.3,646.2 Q1220.9,649.5 1211.8,652.2 Q1218.7,655.6 1218.8,658.9 Q1214.0,661.1 1204.0,661.5 Q1208.0,666.2 1206.1,669.7 Q1197.2,670.4 1186.1,668.2 Q1182.5,672.6 1175.5,674.3 Q1167.0,673.7 1160.0,670.0 Q1151.0,672.5 1142.6,671.9 Q1137.8,669.8 1137.4,665.5 Q1128.3,666.0 1123.1,664.2 Q1120.4,661.2 1123.9,657.2 Q1114.8,655.4 1111.9,652.4 Q1113.5,649.1 1121.6,646.4 Q1115.8,642.7 1116.8,639.3 Q1121.7,637.2 1131.4,637.1 Q1129.0,632.6 1132.1,629.6 Q1140.2,628.9 1150.2,631.2 Q1154.2,626.7 1161.3,625.0 Z" fill="#f39a4a" stroke="#a85a25" stroke-width="0.8"/>
<path d="M1166.5,650.0 C1159.7,641.7 1182.9,636.7 1173.4,630.0 M1166.5,650.0 C1169.3,641.3 1195.1,641.7 1193.7,633.8 M1166.5,650.0 C1178.6,643.0 1200.6,649.0 1208.2,641.8 M1166.5,650.0 C1184.9,646.6 1197.2,656.7 1211.8,652.2 M1166.5,650.0 C1186.3,650.9 1186.3,662.4 1204.0,661.5 M1166.5,650.0 C1182.7,655.2 1169.8,665.1 1186.1,668.2 M1166.5,650.0 C1173.5,658.3 1150.3,663.3 1160.0,670.0 M1166.5,650.0 C1162.7,658.7 1137.0,657.6 1137.4,665.5 M1166.5,650.0 C1153.6,656.7 1132.3,650.3 1123.9,657.2 M1166.5,650.0 C1147.6,652.8 1137.0,642.4 1121.6,646.4 M1166.5,650.0 C1146.9,648.3 1149.2,636.9 1131.4,637.1 M1166.5,650.0 C1151.3,644.3 1165.9,634.9 1150.2,631.2 " fill="none" stroke="#a85a25" stroke-width="0.8"/>
<path d="M147.5,659.1 Q121.2,646.6 93.0,654.0 Q119.3,666.5 147.5,659.1 Z" fill="#91c05c" stroke="#5c8a3c" stroke-width="0.7"/>
<line x1="147.5" y1="659.1" x2="101.2" y2="654.8" stroke="#5c8a3c" stroke-width="0.7"/>
<path d="M147.5,659.1 Q120.8,651.1 95.6,663.0 Q122.3,671.0 147.5,659.1 Z" fill="#91c05c" stroke="#5c8a3c" stroke-width="0.7"/>
<line x1="147.5" y1="659.1" x2="103.4" y2="662.4" stroke="#5c8a3c" stroke-width="0.7"/>
<path d="M147.5,659.1 Q120.4,655.7 101.0,675.0 Q128.1,678.4 147.5,659.1 Z" fill="#91c05c" stroke="#5c8a3c" stroke-width="0.7"/>
<line x1="147.5" y1="659.1" x2="108.0" y2="672.6" stroke="#5c8a3c" stroke-width="0.7"/>
<path d="M147.5,659.1 Q139.0,637.6 116.0,640.0 Q124.5,661.5 147.5,659.1 Z" fill="#91c05c" stroke="#5c8a3c" stroke-width="0.7"/>
<line x1="147.5" y1="659.1" x2="120.7" y2="642.9" stroke="#5c8a3c" stroke-width="0.7"/>
<path d="M147.5,659.1 Q163.5,643.1 142.3,635.2 Q126.3,651.2 147.5,659.1 Z" fill="#91c05c" stroke="#5c8a3c" stroke-width="0.7"/>
<line x1="147.5" y1="659.1" x2="143.1" y2="638.8" stroke="#5c8a3c" stroke-width="0.7"/>
<path d="M147.5,659.1 Q170.2,660.7 172.0,638.0 Q149.3,636.4 147.5,659.1 Z" fill="#91c05c" stroke="#5c8a3c" stroke-width="0.7"/>
<line x1="147.5" y1="659.1" x2="168.3" y2="641.2" stroke="#5c8a3c" stroke-width="0.7"/>
<path d="M147.5,659.1 Q173.2,660.5 192.0,643.0 Q166.3,641.6 147.5,659.1 Z" fill="#91c05c" stroke="#5c8a3c" stroke-width="0.7"/>
<line x1="147.5" y1="659.1" x2="185.3" y2="645.4" stroke="#5c8a3c" stroke-width="0.7"/>
<path d="M147.5,659.1 Q175.9,667.2 203.0,655.4 Q174.6,647.3 147.5,659.1 Z" fill="#91c05c" stroke="#5c8a3c" stroke-width="0.7"/>
<line x1="147.5" y1="659.1" x2="194.7" y2="656.0" stroke="#5c8a3c" stroke-width="0.7"/>
<path d="M147.5,659.1 Q171.5,673.4 199.0,668.0 Q175.0,653.7 147.5,659.1 Z" fill="#91c05c" stroke="#5c8a3c" stroke-width="0.7"/>
<line x1="147.5" y1="659.1" x2="191.3" y2="666.7" stroke="#5c8a3c" stroke-width="0.7"/>
<path d="M147.5,659.1 Q162.3,680.7 188.5,679.0 Q173.7,657.4 147.5,659.1 Z" fill="#91c05c" stroke="#5c8a3c" stroke-width="0.7"/>
<line x1="147.5" y1="659.1" x2="182.3" y2="676.0" stroke="#5c8a3c" stroke-width="0.7"/>
<path d="M147.5,659.1 Q132.1,675.7 153.5,683.0 Q168.9,666.4 147.5,659.1 Z" fill="#91c05c" stroke="#5c8a3c" stroke-width="0.7"/>
<line x1="147.5" y1="659.1" x2="152.6" y2="679.4" stroke="#5c8a3c" stroke-width="0.7"/>
<path d="M147.5,659.1 Q123.7,659.0 130.0,682.0 Q153.8,682.1 147.5,659.1 Z" fill="#91c05c" stroke="#5c8a3c" stroke-width="0.7"/>
<line x1="147.5" y1="659.1" x2="132.6" y2="678.6" stroke="#5c8a3c" stroke-width="0.7"/>
<ellipse cx="334.0" cy="862.0" rx="14.0" ry="9.0" fill="#93bf5a"/>
<path d="M336.0,861.0 Q305.8,849.4 279.1,867.6 Q309.3,879.2 336.0,861.0 Z" fill="#93bf5a" stroke="#3f5f2a" stroke-width="0.8"/>
<path d="M336.0,861.0 Q363.9,877.7 393.6,864.5 Q365.7,847.8 336.0,861.0 Z" fill="#93bf5a" stroke="#3f5f2a" stroke-width="0.8"/>
<path d="M336.0,861.0 Q325.6,831.0 295.2,840.2 Q305.6,870.2 336.0,861.0 Z" fill="#93bf5a" stroke="#3f5f2a" stroke-width="0.8"/>
<path d="M336.0,861.0 Q364.8,863.5 359.5,835.1 Q330.7,832.6 336.0,861.0 Z" fill="#93bf5a" stroke="#3f5f2a" stroke-width="0.8"/>
<path d="M336.0,861.0 Q322.6,883.3 348.5,885.6 Q361.9,863.3 336.0,861.0 Z" fill="#93bf5a" stroke="#3f5f2a" stroke-width="0.8"/>
<path d="M336.0,861.0 Q315.4,854.6 297.0,866.0 Q317.6,872.4 336.0,861.0 Z" fill="none" stroke="#3f5f2a" stroke-width="0.7"/>
<line x1="336.0" y1="861.0" x2="302.9" y2="865.2" stroke="#3f5f2a" stroke-width="0.7"/>
<path d="M336.0,861.0 Q358.8,870.5 382.0,862.0 Q359.2,852.5 336.0,861.0 Z" fill="none" stroke="#3f5f2a" stroke-width="0.7"/>
<line x1="336.0" y1="861.0" x2="375.1" y2="861.9" stroke="#3f5f2a" stroke-width="0.7"/>
<path d="M334.0,860.0 Q325.9,840.1 305.0,845.0 Q313.1,864.9 334.0,860.0 Z" fill="none" stroke="#3f5f2a" stroke-width="0.7"/>
<line x1="334.0" y1="860.0" x2="309.4" y2="847.2" stroke="#3f5f2a" stroke-width="0.7"/>
<path d="M337.0,860.0 Q355.6,861.7 355.0,843.0 Q336.4,841.3 337.0,860.0 Z" fill="none" stroke="#3f5f2a" stroke-width="0.7"/>
<line x1="337.0" y1="860.0" x2="352.3" y2="845.5" stroke="#3f5f2a" stroke-width="0.7"/>
<path d="M336.0,862.0 Q328.0,877.3 345.0,880.0 Q353.0,864.7 336.0,862.0 Z" fill="none" stroke="#3f5f2a" stroke-width="0.7"/>
<line x1="336.0" y1="862.0" x2="343.6" y2="877.3" stroke="#3f5f2a" stroke-width="0.7"/>
</svg></body></html>
